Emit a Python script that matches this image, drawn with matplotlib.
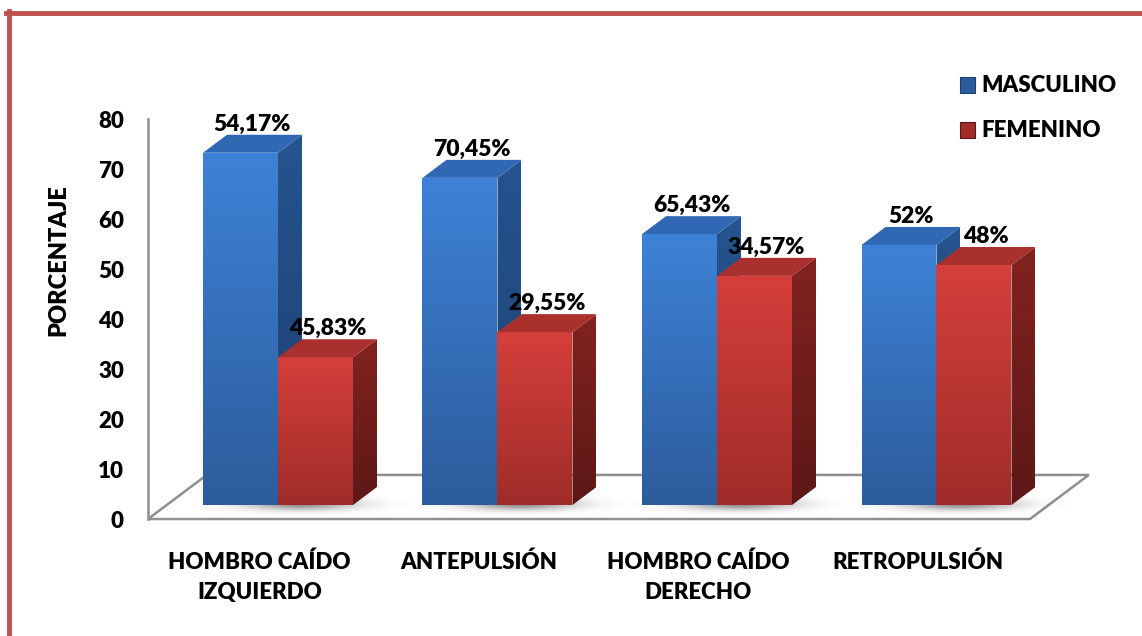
import numpy as np
import matplotlib.pyplot as plt
from matplotlib.patches import Polygon, Rectangle
from matplotlib.lines import Line2D
from matplotlib.colors import LinearSegmentedColormap

plt.rcParams['font.family'] = ['Lato', 'DejaVu Sans']
plt.rcParams['font.weight'] = 'heavy'

# datos
categorias = ['HOMBRO CAÍDO\nIZQUIERDO', 'ANTEPULSIÓN', 'HOMBRO CAÍDO\nDERECHO', 'RETROPULSIÓN']
series = ['MASCULINO', 'FEMENINO']
masculino = [70.45, 65.43, 54.17, 52]
femenino = [29.55, 34.57, 45.83, 48]
etiq_masc = ['54,17%', '70,45%', '65,43%', '52%']
etiq_fem = ['45,83%', '29,55%', '34,57%', '48%']
yticks = [0, 10, 20, 30, 40, 50, 60, 70, 80]

# colores (top, bottom) de cara frontal, lateral y superior
azul = {'front': ('#3d82d6', '#2d5c9c'), 'side': ('#25548f', '#1d3f6e'), 'top': '#3068b3'}
rojo = {'front': ('#d53f3b', '#a02c29'), 'side': ('#82231f', '#5c1817'), 'top': '#a9302c'}

W, H = 1142, 636
x0px, xstep = 278, 219.5
y0px, ypx = 505, 5.0
bw = 75 / xstep
ddx, ddy = 24 / xstep, 18 / ypx
floor_front, floor_back = -0.78, 1.67
floor_l, floor_r = -0.507, 3.511
fs = 16

fig = plt.figure(figsize=(W / 100, H / 100), dpi=100)
ax = fig.add_axes([0, 0, 1, 1])
ax.axis('off')
xlim = (-x0px / xstep, (W - x0px) / xstep)
ylim = ((y0px - H) / ypx, y0px / ypx)


def grad_poly(verts, ctop, cbot, z):
    poly = Polygon(verts, closed=True, facecolor='none', edgecolor='none', zorder=z)
    ax.add_patch(poly)
    xs = [v[0] for v in verts]
    ys = [v[1] for v in verts]
    cmap = LinearSegmentedColormap.from_list('g', [cbot, ctop])
    g = np.linspace(0, 1, 100).reshape(-1, 1)
    im = ax.imshow(g, extent=(min(xs), max(xs), min(ys), max(ys)), origin='lower',
                   cmap=cmap, aspect='auto', zorder=z, interpolation='bilinear')
    im.set_clip_path(poly)


def bar3d(xl, h, col, z):
    xr = xl + bw
    grad_poly([(xl, 0), (xr, 0), (xr, h), (xl, h)], col['front'][0], col['front'][1], z)
    grad_poly([(xr, 0), (xr + ddx, ddy), (xr + ddx, h + ddy), (xr, h)],
              col['side'][0], col['side'][1], z)
    ax.add_patch(Polygon([(xl, h), (xr, h), (xr + ddx, h + ddy), (xl + ddx, h + ddy)],
                         closed=True, facecolor=col['top'], edgecolor='none', zorder=z))


# suelo
def fpt(x, d):
    return (x + d * ddx, d * ddy)


piso = [fpt(floor_l, floor_front), fpt(floor_r, floor_front),
        fpt(floor_r, floor_back), fpt(floor_l, floor_back)]
ax.add_patch(Polygon(piso, closed=True, facecolor='white', edgecolor='#8f8f8f',
                     linewidth=1.8, zorder=1))
ax_x, ax_y = fpt(floor_l, floor_front)
ax.plot([ax_x, ax_x], [ax_y, ax_y + 80], color='#8f8f8f', linewidth=1.8, zorder=1)

# sombras
gx, gy = np.meshgrid(np.linspace(-1, 1, 120), np.linspace(-1, 1, 60))
sh = np.zeros((60, 120, 4))
sh[..., 3] = 0.45 * np.exp(-(gx ** 2) * 4.0 - (gy ** 2) * 5.0)
for i in range(len(categorias)):
    ax.imshow(sh, extent=(i - bw - 0.05, i + bw + ddx + 0.14, -2.6, 3.0),
              origin='lower', aspect='auto', zorder=1.5)

# barras
for i in range(len(categorias)):
    bar3d(i - bw, masculino[i], azul, 2 + i)
    bar3d(i, femenino[i], rojo, 2.5 + i)
    ax.text(i - bw / 2 + ddx / 2, masculino[i] + ddy + 0.8, etiq_masc[i], ha='center',
            va='baseline', fontsize=fs + 0.5, color='black', zorder=10)
    ax.text(i + bw / 2 + ddx / 2, femenino[i] + ddy + 0.8, etiq_fem[i], ha='center',
            va='baseline', fontsize=fs + 0.5, color='black', zorder=10)
    ax.text(i + floor_front * ddx, -9.3, categorias[i], ha='center', va='top',
            fontsize=fs, linespacing=1.55, zorder=10)

for t in yticks:
    ax.text(ax_x - 24 / xstep, t + ax_y - 0.5, str(t), ha='right', va='center', fontsize=fs)

ax.set_xlim(*xlim)
ax.set_ylim(*ylim)

fig.text(58 / W, 1 - 260 / H, 'PORCENTAJE', rotation=90, ha='center', va='center', fontsize=fs + 1)

# leyenda
for k, (nombre, col) in enumerate(zip(series, [azul, rojo])):
    yc = 85 + 45 * k
    fig.patches.append(Rectangle((960 / W, 1 - (yc + 7.5) / H), 15 / W, 15 / H,
                                 transform=fig.transFigure, facecolor=col['front'][1],
                                 edgecolor=col['side'][1], linewidth=0.8))
    fig.text(981 / W, 1 - yc / H, nombre, ha='left', va='center', fontsize=fs)

# borde
fig.add_artist(Line2D([6 / W, 1], [1 - 13 / H, 1 - 13 / H], transform=fig.transFigure,
                      color='#c0504d', linewidth=3.5))
fig.add_artist(Line2D([8.5 / W, 8.5 / W], [0, 1 - 11 / H], transform=fig.transFigure,
                      color='#c0504d', linewidth=3.5))

plt.savefig('out.png', dpi=100)
